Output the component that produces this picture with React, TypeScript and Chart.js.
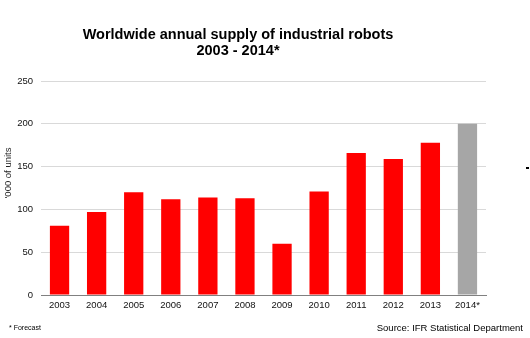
import React, { useEffect, useRef } from "react";
import { Chart, registerables } from "chart.js";

Chart.register(...registerables);

const categories = ["2003", "2004", "2005", "2006", "2007", "2008", "2009", "2010", "2011", "2012", "2013", "2014*"];
const supplyThousands = [81, 97, 120, 112, 114, 113, 60, 121, 166, 159, 178, 200];
const barColors = ["#FF0000", "#FF0000", "#FF0000", "#FF0000", "#FF0000", "#FF0000", "#FF0000", "#FF0000", "#FF0000", "#FF0000", "#FF0000", "#A6A6A6"];
const yTicks = [0, 50, 100, 150, 200, 250];
const titleLines = ["Worldwide annual supply of industrial robots", "2003 - 2014*"];
const yAxisTitle = "'000 of units";
const footnote = "* Forecast";
const sourceNote = "Source: IFR Statistical Department";

const FONT = "'Liberation Sans', Arial, sans-serif";

const annotations = {
  id: "annotations",
  afterDraw(chart: any) {
    const ctx = chart.ctx;
    ctx.save();
    ctx.fillStyle = "#000";
    ctx.textAlign = "center";
    ctx.textBaseline = "middle";
    ctx.font = `bold 14.5px ${FONT}`;
    ctx.fillText(titleLines[0], 238, 35);
    ctx.fillText(titleLines[1], 238, 51);

    ctx.font = `9.5px ${FONT}`;
    ctx.fillStyle = "#222";
    ctx.translate(8, 173);
    ctx.rotate(-Math.PI / 2);
    ctx.fillText(yAxisTitle, 0, 0);
    ctx.setTransform(1, 0, 0, 1, 0, 0);

    ctx.textAlign = "left";
    ctx.font = `7px ${FONT}`;
    ctx.fillStyle = "#000";
    ctx.fillText(footnote, 9, 328);

    ctx.textAlign = "right";
    ctx.font = `9.5px ${FONT}`;
    ctx.fillText(sourceNote, 523, 328);

    ctx.fillStyle = "#000";
    ctx.fillRect(526, 167, 3, 2);
    ctx.restore();
  },
};

export default function App() {
  const canvasRef = useRef<HTMLCanvasElement | null>(null);

  useEffect(() => {
    document.body.style.margin = "0";
    const canvas = canvasRef.current;
    if (!canvas) return;
    const chart = new Chart(canvas, {
      type: "bar",
      data: {
        labels: categories,
        datasets: [
          {
            data: supplyThousands,
            backgroundColor: barColors,
            borderWidth: 0,
            barPercentage: 0.52,
            categoryPercentage: 1,
          },
        ],
      },
      options: {
        animation: false,
        responsive: false,
        devicePixelRatio: 1,
        layout: { padding: { top: 81, right: 44, left: 0, bottom: 0 } },
        plugins: {
          legend: { display: false },
          title: { display: false },
          tooltip: { enabled: false },
        },
        scales: {
          x: {
            grid: { display: false, drawTicks: false },
            border: { display: true, color: "#808080", width: 1 },
            ticks: {
              color: "#111",
              font: { family: FONT, size: 9.5 },
              padding: 5,
              maxRotation: 0,
              autoSkip: false,
            },
            afterFit: (scale: any) => {
              scale.height = 43;
            },
          },
          y: {
            min: 0,
            max: 250,
            afterBuildTicks: (scale: any) => {
              scale.ticks = yTicks.map((v) => ({ value: v }));
            },
            grid: { color: "#D9D9D9", drawTicks: false, lineWidth: 1 },
            border: { display: false },
            ticks: {
              color: "#111",
              font: { family: FONT, size: 9.5 },
              padding: 8,
            },
            afterFit: (scale: any) => {
              scale.width = 41;
            },
          },
        },
      },
      plugins: [annotations],
    });
    return () => chart.destroy();
  }, []);

  return (
    <div style={{ width: 530, height: 338 }}>
      <canvas ref={canvasRef} width={530} height={338} style={{ display: "block" }} />
    </div>
  );
}
